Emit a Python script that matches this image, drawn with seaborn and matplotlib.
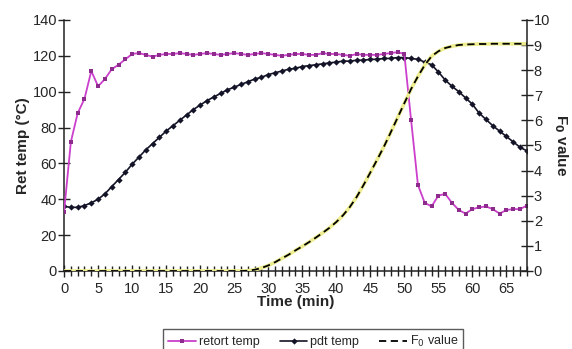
import numpy as np
import pandas as pd
import matplotlib
matplotlib.use("Agg")
import matplotlib.pyplot as plt
from matplotlib.lines import Line2D
from matplotlib.ticker import MultipleLocator
import seaborn as sns

sns.set_theme(style="white")
plt.rcParams["font.family"] = ["Liberation Sans", "DejaVu Sans"]

# Time axis (min)
time_min = list(range(0, 69))

# Retort temperature (°C)
retort_temp = [
    33, 72, 88, 96, 111.5, 103, 107, 112.5, 115, 118,
    121, 121.5, 120.5, 119.5, 120.5, 121, 121, 121.5, 121, 120.5,
    121, 121.5, 121, 120.5, 121, 121.5, 121, 120.5, 121, 121.5,
    121, 120.5, 120, 120.5, 121, 121, 120.5, 120.5, 121.5, 121,
    121, 120.5, 120, 121, 120.5, 120.5, 120.5, 121, 121.5, 122,
    121, 84, 48, 38, 36, 42, 43, 38, 34, 32,
    34.5, 35.5, 36, 34.5, 32, 34, 34.5, 34.5, 36.5,
]

# Product (cold point) temperature (°C)
pdt_temp = [
    36, 35.5, 35.5, 36.5, 38, 40, 43, 47, 51, 55,
    59.5, 63.5, 67.5, 71, 74.5, 78, 81, 84, 87, 90,
    92.5, 95, 97, 99, 101, 102.5, 104, 105.5, 107, 108,
    109.5, 110.5, 111.5, 112.5, 113, 114, 114.5, 115, 115.5, 116,
    116.5, 117, 117, 117.5, 117.5, 118, 118, 118.5, 118.5, 119,
    119, 118.5, 118, 116.5, 115, 111, 106.5, 103, 100, 96.5,
    93, 88, 84.5, 81, 78, 75, 72, 69, 67,
]

# Accumulated lethality F0 (min)
f0_value = [
    0, 0, 0, 0, 0, 0, 0, 0, 0, 0,
    0, 0, 0, 0, 0, 0, 0, 0, 0, 0,
    0, 0, 0, 0, 0, 0, 0, 0.01, 0.05, 0.12,
    0.22, 0.35, 0.5, 0.65, 0.82, 0.98, 1.15, 1.33, 1.52, 1.72,
    1.95, 2.22, 2.55, 2.95, 3.42, 3.92, 4.43, 4.95, 5.52, 6.1,
    6.68, 7.25, 7.75, 8.2, 8.55, 8.75, 8.88, 8.95, 9.0, 9.02,
    9.03, 9.04, 9.04, 9.05, 9.05, 9.05, 9.05, 9.05, 9.05,
]

df = pd.DataFrame({
    "time": time_min,
    "retort": retort_temp,
    "pdt": pdt_temp,
    "f0": f0_value,
})

pink = "#cc3fcc"
pink_dark = "#8e2c8e"
navy = "#141428"
yellow = "#eeee90"

fig = plt.figure(figsize=(5.72, 3.49), dpi=100)
ax = fig.add_axes([0.112, 0.2235, 0.809, 0.7195])
ax2 = ax.twinx()

sns.lineplot(data=df, x="time", y="pdt", ax=ax, color=navy, lw=1.2,
             marker="D", markersize=3.2, markeredgewidth=0,
             markerfacecolor=navy, zorder=3)
sns.lineplot(data=df, x="time", y="retort", ax=ax, color=pink, lw=1.3,
             marker="s", markersize=2.4, markeredgewidth=0,
             markerfacecolor=pink_dark, zorder=4)

# F0 curve: pale yellow trace under a black dashed line
sns.lineplot(data=df, x="time", y="f0", ax=ax2, color=yellow, lw=2.6, zorder=2)
sns.lineplot(data=df, x="time", y="f0", ax=ax2, color="black", lw=1.3,
             linestyle=(0, (4, 2.5)), zorder=3)

ax.set_xlim(0, 68)
ax.set_ylim(0, 140)
ax2.set_ylim(0, 10)
ax.set_yticks(range(0, 141, 20))
ax2.set_yticks(range(0, 11, 1))
ax.xaxis.set_major_locator(MultipleLocator(5))
ax.xaxis.set_minor_locator(MultipleLocator(1))
ax.set_xticks(range(0, 66, 5))

for a in (ax, ax2):
    a.spines["top"].set_visible(False)
    for s in ("left", "right", "bottom"):
        a.spines[s].set_color("#222222")
        a.spines[s].set_linewidth(1.1)
    a.grid(False)

ax.spines["right"].set_visible(False)
ax2.spines["left"].set_visible(False)
ax2.spines["bottom"].set_visible(False)

ax.tick_params(axis="x", which="major", direction="inout", length=8, width=1,
               color="#222222", labelsize=10.5, pad=4, bottom=True)
ax.tick_params(axis="x", which="minor", direction="inout", length=7, width=1,
               color="#222222", bottom=True)
ax.tick_params(axis="y", direction="inout", length=8, width=1,
               color="#222222", labelsize=10.5, pad=1, left=True)
ax2.tick_params(axis="y", direction="inout", length=8, width=1,
                color="#222222", labelsize=10.5, pad=1, right=True)

ax.set_xlabel("Time (min)", fontsize=11, fontweight="bold", labelpad=-1)
ax.set_ylabel("Ret temp (°C)", fontsize=11, fontweight="bold", labelpad=2)
ax2.set_ylabel("F$_\\mathbf{0}$ value", fontsize=11, fontweight="bold",
               rotation=270, labelpad=14)

handles = [
    Line2D([], [], color=pink, lw=1.3, marker="s", markersize=2.4,
           markeredgewidth=0, markerfacecolor=pink_dark),
    Line2D([], [], color=navy, lw=1.2, marker="D", markersize=3.2,
           markeredgewidth=0),
    Line2D([], [], color="black", lw=1.3, linestyle=(0, (4, 2.5))),
]
labels = ["retort temp", "pdt temp", "F$_0$ value"]
leg = fig.legend(handles, labels, loc="upper center",
                 bbox_to_anchor=(0.548, 0.075), ncol=3, fontsize=9,
                 frameon=True, fancybox=False, edgecolor="#333333",
                 handlelength=2.2, handletextpad=0.25, columnspacing=1.6,
                 borderpad=0.4)
leg.get_frame().set_linewidth(1.0)

fig.savefig("out.png", dpi=100)
